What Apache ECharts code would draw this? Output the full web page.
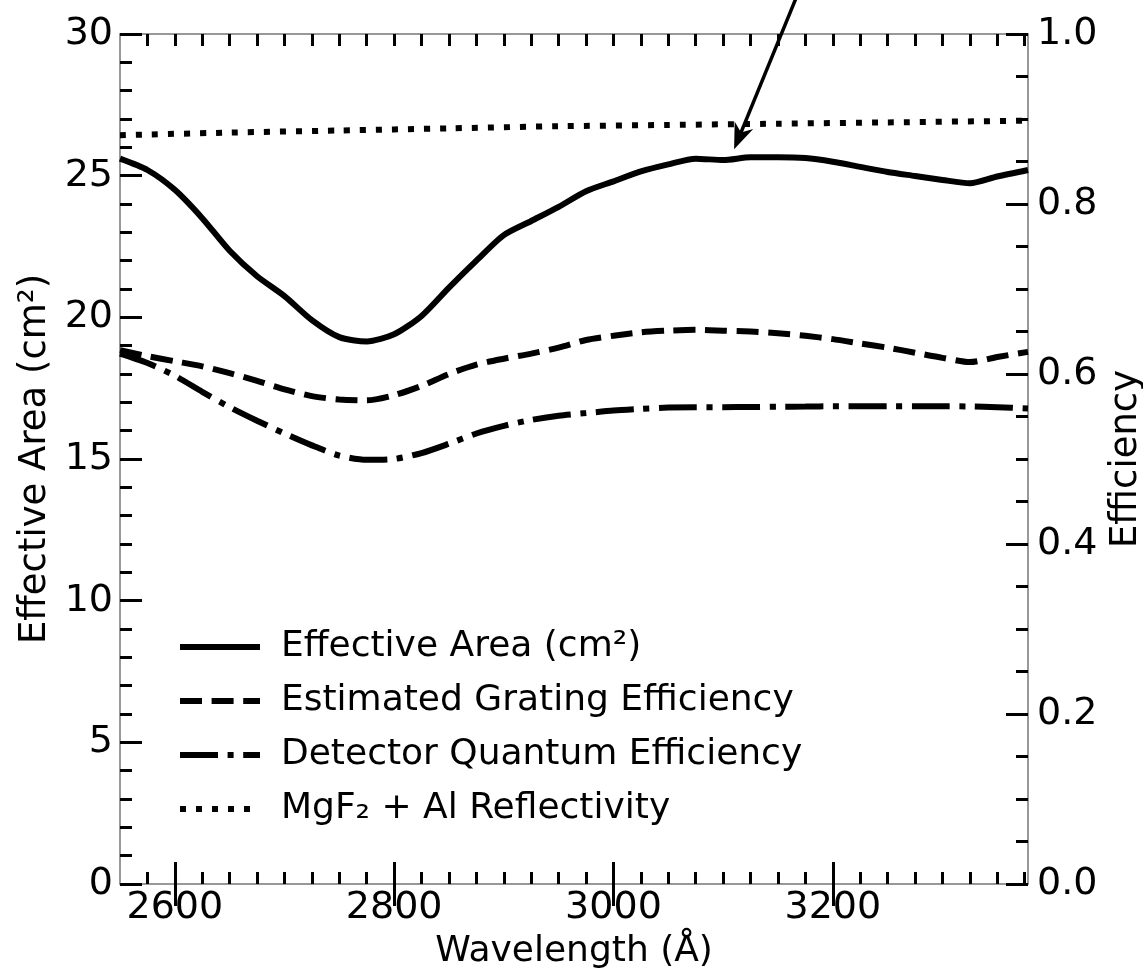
<!DOCTYPE html>
<html><head><meta charset="utf-8">
<script src="https://cdn.jsdelivr.net/npm/echarts@6/dist/echarts.min.js"></script>
<style>html,body{margin:0;padding:0;background:#fff}#c{width:1143px;height:976px}</style>
</head><body><div id="c"></div>
<script>
// ---- data ----
const wavelengths = [2550,2575,2600,2625,2650,2675,2700,2725,2750,2775,2800,2825,2850,2875,2900,2925,2950,2975,3000,3025,3050,3075,3100,3125,3150,3175,3200,3225,3250,3275,3300,3325,3350,3378];
const effectiveArea = [25.6,25.2,24.5,23.5,22.35,21.45,20.75,19.9,19.3,19.15,19.4,20.05,21.05,22.0,22.9,23.4,23.9,24.45,24.8,25.15,25.4,25.6,25.55,25.65,25.65,25.62,25.49,25.31,25.13,24.99,24.85,24.73,24.97,25.2];
const gratingEff = [0.628,0.621,0.615,0.609,0.601,0.592,0.582,0.574,0.570,0.569,0.575,0.586,0.600,0.611,0.618,0.624,0.631,0.640,0.645,0.649,0.651,0.652,0.651,0.650,0.648,0.645,0.641,0.636,0.631,0.625,0.619,0.614,0.620,0.626];
const detectorQE = [0.624,0.613,0.598,0.579,0.561,0.545,0.530,0.516,0.504,0.499,0.500,0.507,0.518,0.530,0.539,0.546,0.551,0.554,0.557,0.559,0.5605,0.561,0.561,0.5612,0.5615,0.5617,0.562,0.562,0.562,0.562,0.562,0.5618,0.561,0.5595];
const reflWavelengths = [2550,2650,2750,2850,2950,3050,3150,3250,3378];
const reflectivity = [0.881,0.884,0.8865,0.889,0.8915,0.893,0.8945,0.896,0.898];
const seriesNames = ['Effective Area (cm²)','Estimated Grating Efficiency','Detector Quantum Efficiency','MgF₂ + Al Reflectivity'];
const xMajorTicks = [2600,2800,3000,3200];
const X_RANGE = [2550,3378];
const arrowTip = [3110,25.93];
const arrowTail = [3170,31.6];

const xMinorTicks = [];
for (let v = 2575; v < X_RANGE[1]; v += 25) xMinorTicks.push(v);

const FONT = 'DejaVu Sans';
const pairs = (xs, ys) => xs.map((x, i) => [x, ys[i]]);
const LW = 6;
const spine = {show:true, onZero:false, lineStyle:{color:'#777', width:1.5}};
const tickStyle = {color:'#000', width:3};
const baseX = {type:'value', min:X_RANGE[0], max:X_RANGE[1], splitLine:{show:false}};

const chart = echarts.init(document.getElementById('c'), null, {renderer:'canvas'});
chart.setOption({
  animation:false,
  backgroundColor:'#fff',
  grid:{left:120, right:115, top:34, bottom:92, containLabel:false, outerBoundsMode:'none'},
  legend:{
    orient:'vertical', left:172, top:624, itemGap:18, itemWidth:80, itemHeight:36,
    itemStyle:{opacity:0},
    lineStyle:{width:LW},
    textStyle:{fontSize:36, color:'#000', fontFamily:FONT, padding:[0,0,0,16]},
    data:seriesNames
  },
  xAxis:[
    Object.assign({}, baseX, {position:'bottom', axisLine:spine,
      axisTick:{inside:true, length:12, lineStyle:tickStyle, customValues:xMinorTicks},
      axisLabel:{show:false}}),
    Object.assign({}, baseX, {position:'bottom', axisLine:{show:false},
      axisTick:{inside:true, length:22, lineStyle:tickStyle, customValues:xMajorTicks},
      axisLabel:{customValues:xMajorTicks, fontSize:38, color:'#000', fontFamily:FONT, margin:5, formatter:v => String(v)},
      name:'Wavelength (Å)', nameLocation:'middle', nameGap:50,
      nameTextStyle:{fontSize:36, color:'#000', fontFamily:FONT}}),
    Object.assign({}, baseX, {position:'top', axisLine:spine,
      axisTick:{inside:true, length:12, lineStyle:tickStyle, customValues:xMinorTicks},
      axisLabel:{show:false}}),
    Object.assign({}, baseX, {position:'top', axisLine:{show:false},
      axisTick:{inside:true, length:22, lineStyle:tickStyle, customValues:xMajorTicks},
      axisLabel:{show:false}})
  ],
  yAxis:[
    {type:'value', position:'left', min:0, max:30, interval:5, axisLine:spine,
      axisTick:{inside:true, length:22, lineStyle:tickStyle},
      minorTick:{show:true, splitNumber:5, length:12, lineStyle:tickStyle},
      axisLabel:{fontSize:38, color:'#000', fontFamily:FONT, margin:7},
      splitLine:{show:false}, minorSplitLine:{show:false},
      name:'Effective Area (cm²)', nameLocation:'middle', nameGap:56, nameRotate:90,
      nameTextStyle:{fontSize:37, color:'#000', fontFamily:FONT}},
    {type:'value', position:'right', min:0, max:1, interval:0.2, axisLine:spine,
      axisTick:{inside:true, length:22, lineStyle:tickStyle},
      minorTick:{show:true, splitNumber:4, length:12, lineStyle:tickStyle},
      axisLabel:{fontSize:38, color:'#000', fontFamily:FONT, margin:9, formatter:v => v.toFixed(1)},
      splitLine:{show:false}, minorSplitLine:{show:false},
      name:'Efficiency', nameLocation:'middle', nameGap:72, nameRotate:90,
      nameTextStyle:{fontSize:37, color:'#000', fontFamily:FONT}}
  ],
  series:[
    {name:seriesNames[0], type:'line', xAxisIndex:0, yAxisIndex:0, symbol:'none', smooth:0.25, data:pairs(wavelengths, effectiveArea),
      lineStyle:{color:'#000', width:LW, type:'solid', cap:'butt', join:'round'}, itemStyle:{color:'#000'}},
    {name:seriesNames[1], type:'line', xAxisIndex:0, yAxisIndex:1, symbol:'none', smooth:0.25, data:pairs(wavelengths, gratingEff),
      lineStyle:{color:'#000', width:LW, type:[22,9.6], cap:'butt'}, itemStyle:{color:'#000'}},
    {name:seriesNames[2], type:'line', xAxisIndex:0, yAxisIndex:1, symbol:'none', smooth:0.25, data:pairs(wavelengths, detectorQE),
      lineStyle:{color:'#000', width:LW, type:[38,9.6,6,9.6], cap:'butt'}, itemStyle:{color:'#000'}},
    {name:seriesNames[3], type:'line', xAxisIndex:0, yAxisIndex:1, symbol:'none', smooth:0.25, data:pairs(reflWavelengths, reflectivity),
      lineStyle:{color:'#000', width:LW, type:[6,10], cap:'butt'}, itemStyle:{color:'#000'}}
  ]
});

// arrow annotation
const tip = chart.convertToPixel({seriesIndex:0}, arrowTip);
const tail = chart.convertToPixel({seriesIndex:0}, arrowTail);
const dx = tail[0]-tip[0], dy = tail[1]-tip[1];
const len = Math.hypot(dx, dy);
const ux = dx/len, uy = dy/len, nx = -uy, ny = ux;
const L = 26, W = 10;
const head = [
  [tip[0], tip[1]],
  [tip[0]+ux*L+nx*W, tip[1]+uy*L+ny*W],
  [tip[0]+ux*L*0.7, tip[1]+uy*L*0.7],
  [tip[0]+ux*L-nx*W, tip[1]+uy*L-ny*W]
];
chart.setOption({graphic:[
  {type:'line', shape:{x1:tip[0]+ux*L*0.6, y1:tip[1]+uy*L*0.6, x2:tail[0], y2:tail[1]}, style:{stroke:'#000', lineWidth:3.5}, z:100},
  {type:'polygon', shape:{points:head}, style:{fill:'#000'}, z:100}
]});
</script></body></html>
